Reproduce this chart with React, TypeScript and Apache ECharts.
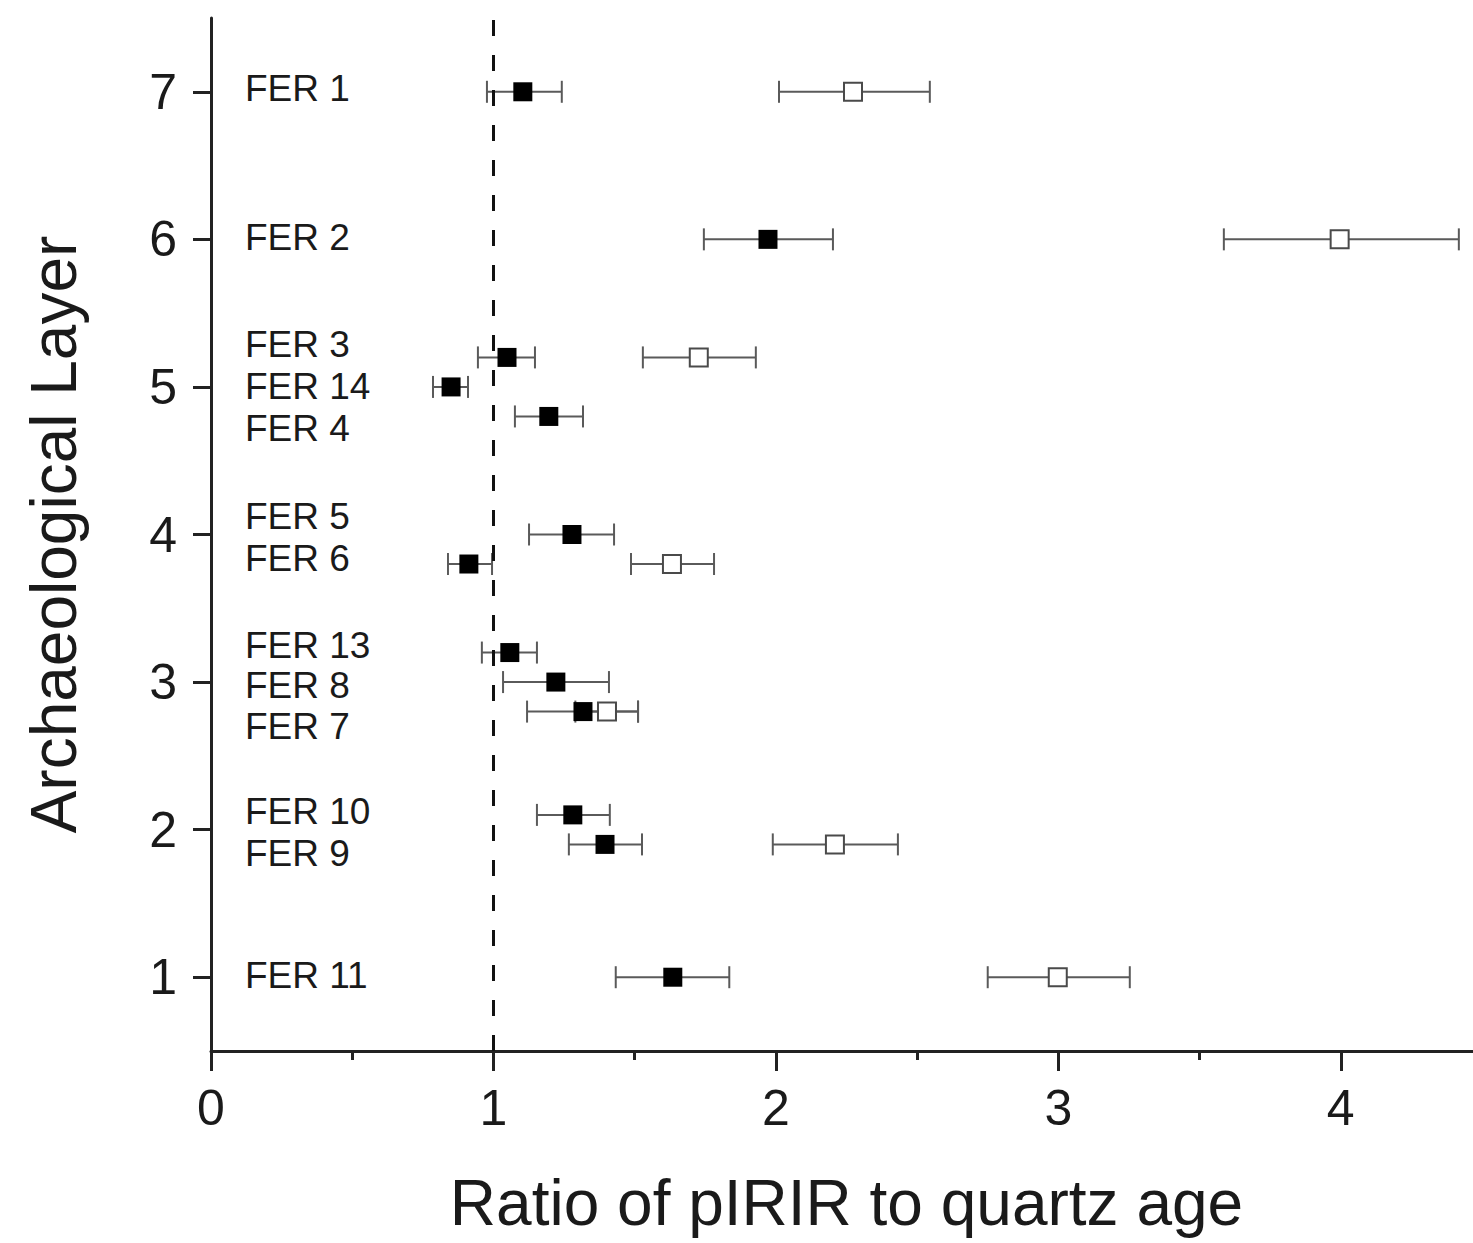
import React, { useEffect, useRef } from "react";
import * as echarts from "echarts";

// ---- data ----
const samples = ["FER 1", "FER 2", "FER 3", "FER 14", "FER 4", "FER 5", "FER 6", "FER 13", "FER 8", "FER 7", "FER 10", "FER 9", "FER 11"];
const layerPos = [7, 6, 5.2, 5, 4.8, 4, 3.8, 3.2, 3, 2.8, 2.1, 1.9, 1];
const labelPos = [7.02, 6.01, 5.29, 5.0, 4.72, 4.12, 3.84, 3.25, 2.98, 2.7, 2.12, 1.84, 1.01];
const labelX = 0.12;

// filled squares
const ratioA = [1.104, 1.972, 1.048, 0.85, 1.196, 1.278, 0.913, 1.058, 1.221, 1.317, 1.281, 1.395, 1.635];
const ratioALow = [0.977, 1.745, 0.945, 0.786, 1.076, 1.126, 0.839, 0.959, 1.034, 1.119, 1.154, 1.267, 1.433];
const ratioAHigh = [1.242, 2.202, 1.147, 0.91, 1.317, 1.427, 0.995, 1.154, 1.409, 1.512, 1.412, 1.526, 1.835];

// open squares
const ratioB = [2.273, 3.996, 1.727, null, null, null, 1.632, null, null, 1.402, null, 2.209, 2.998];
const ratioBLow = [2.011, 3.586, 1.529, null, null, null, 1.487, null, null, 1.29, null, 1.989, 2.75];
const ratioBHigh = [2.545, 4.418, 1.929, null, null, null, 1.781, null, null, 1.512, null, 2.432, 3.253];

const layerTicks = [1, 2, 3, 4, 5, 6, 7];
const refRatio = 1;

const FONT = "'Liberation Sans', Arial, Helvetica, sans-serif";
const TEXT = "#1a1a1a";

function errorBarSeries(low: (number | null)[], high: (number | null)[]) {
  const data: any[] = [];
  layerPos.forEach((y, i) => {
    if (low[i] != null && high[i] != null) data.push([y, low[i], high[i]]);
  });
  return {
    type: "custom",
    data,
    encode: { x: [1, 2], y: 0 },
    z: 2,
    renderItem: (params: any, api: any) => {
      const y = api.value(0);
      const p1 = api.coord([api.value(1), y]);
      const p2 = api.coord([api.value(2), y]);
      const cap = 11;
      const style = { stroke: "#5a5a5a", lineWidth: 2 };
      return {
        type: "group",
        children: [
          { type: "line", shape: { x1: p1[0], y1: p1[1], x2: p2[0], y2: p2[1] }, style },
          { type: "line", shape: { x1: p1[0], y1: p1[1] - cap, x2: p1[0], y2: p1[1] + cap }, style },
          { type: "line", shape: { x1: p2[0], y1: p2[1] - cap, x2: p2[0], y2: p2[1] + cap }, style },
        ],
      };
    },
  };
}

export default function App() {
  const ref = useRef<HTMLDivElement>(null);

  useEffect(() => {
    document.body.style.margin = "0";
    if (!ref.current) return;
    const chart = echarts.init(ref.current, undefined, { renderer: "svg" });

    const dataA = layerPos.map((y, i) => [ratioA[i], y]);
    const dataB: any[] = [];
    layerPos.forEach((y, i) => {
      if (ratioB[i] != null) dataB.push([ratioB[i], y]);
    });
    const labelData = samples.map((s, i) => [labelX, labelPos[i], s]);

    const option: any = {
      animation: false,
      backgroundColor: "#ffffff",
      grid: { left: 211, top: 18, width: 1271, height: 1033, containLabel: false, outerBoundsMode: "none" },
      xAxis: [
        {
          type: "value",
          min: 0,
          max: 4.5,
          interval: 1,
          position: "bottom",
          axisLine: { show: true, lineStyle: { color: "#222", width: 3 } },
          axisTick: { show: true, length: 20, lineStyle: { color: "#222", width: 3 } },
          splitLine: { show: false },
          axisLabel: {
            fontSize: 50,
            color: TEXT,
            fontFamily: FONT,
            margin: 32,
            showMaxLabel: false,
            formatter: (v: number) => (Number.isInteger(v) ? String(v) : ""),
          },
          name: "Ratio of pIRIR to quartz age",
          nameLocation: "middle",
          nameGap: 120,
          nameTextStyle: { fontSize: 64, color: TEXT, fontFamily: FONT },
        },
        {
          type: "value",
          min: 0,
          max: 4.5,
          interval: 0.5,
          position: "bottom",
          axisLine: { show: false },
          axisTick: { show: true, length: 9, lineStyle: { color: "#222", width: 3 } },
          axisLabel: { show: false },
          splitLine: { show: false },
        },
      ],
      yAxis: {
        type: "value",
        min: 0.5,
        max: 7.5,
        axisLine: { show: true, lineStyle: { color: "#222", width: 3 } },
        axisTick: { show: true, length: 18, customValues: layerTicks, lineStyle: { color: "#222", width: 3 } },
        splitLine: { show: false },
        axisLabel: { fontSize: 50, color: TEXT, fontFamily: FONT, margin: 34, customValues: layerTicks },
        name: "Archaeological Layer",
        nameLocation: "middle",
        nameRotate: 90,
        nameGap: 125,
        nameTextStyle: { fontSize: 64, color: TEXT, fontFamily: FONT },
      },
      series: [
        errorBarSeries(ratioALow, ratioAHigh),
        errorBarSeries(ratioBLow, ratioBHigh),
        {
          type: "scatter",
          data: dataB,
          symbol: "rect",
          symbolSize: 18,
          z: 3,
          itemStyle: { color: "#ffffff", borderColor: "#4a4a4a", borderWidth: 2, opacity: 1 },
        },
        {
          type: "scatter",
          data: dataA,
          symbol: "rect",
          symbolSize: 19,
          z: 4,
          itemStyle: { color: "#000000", opacity: 1 },
          markLine: {
            silent: true,
            symbol: "none",
            label: { show: false },
            lineStyle: { color: "#111", width: 3, type: [16, 19] },
            data: [{ xAxis: refRatio }],
          },
        },
        {
          type: "custom",
          data: labelData,
          encode: { x: 0, y: 1 },
          z: 5,
          renderItem: (params: any, api: any) => {
            const p = api.coord([api.value(0), api.value(1)]);
            return {
              type: "text",
              x: p[0],
              y: p[1],
              style: {
                text: samples[params.dataIndex],
                fontSize: 37,
                fontFamily: FONT,
                fill: TEXT,
                align: "left",
                verticalAlign: "middle",
              },
            };
          },
        },
      ],
    };

    chart.setOption(option);
    return () => chart.dispose();
  }, []);

  return <div ref={ref} style={{ width: 1473, height: 1243 }} />;
}
